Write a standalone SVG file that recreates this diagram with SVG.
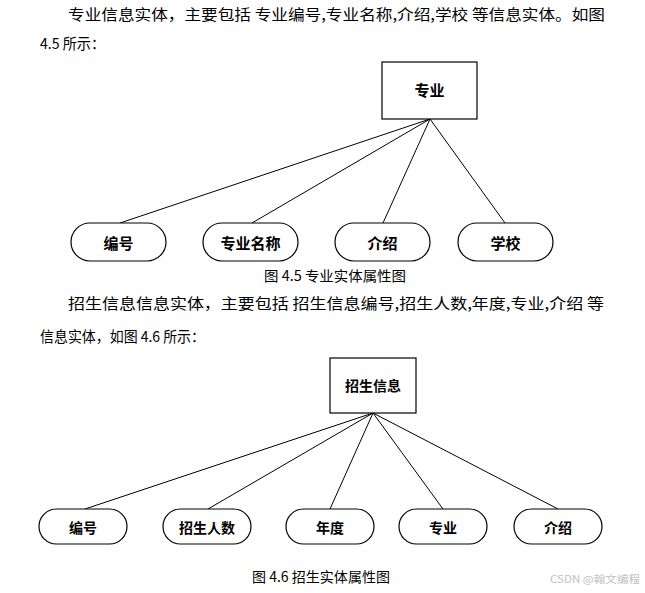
<svg xmlns="http://www.w3.org/2000/svg" width="645" height="593" viewBox="0 0 645 593">
<style>
.body{font-family:"Noto Sans CJK SC","Liberation Serif",serif;font-size:15px;fill:#000}
.cap{font-family:"Noto Sans CJK SC","Liberation Serif",serif;font-size:14px;fill:#000}
.ent{fill:#fff;stroke:#000;stroke-width:1.2}
.attr{fill:#fff;stroke:#000;stroke-width:1.2}
.lbl{font-family:"Noto Sans CJK SC",sans-serif;font-size:15px;font-weight:bold;fill:#000;text-anchor:middle;dominant-baseline:central}
.lbl2{font-family:"Noto Sans CJK SC",sans-serif;font-size:14px;font-weight:bold;fill:#000;text-anchor:middle;dominant-baseline:central}
.conn line{stroke:#000;stroke-width:1}
</style>
<rect width="645" height="593" fill="#fff"/>
<text class="body" x="68" y="20" textLength="537" lengthAdjust="spacingAndGlyphs">专业信息实体，主要包括 专业编号,专业名称,介绍,学校 等信息实体。如图</text>
<text class="body" x="40" y="49" textLength="65" lengthAdjust="spacingAndGlyphs">4.5 所示：</text>
<text class="cap" x="264" y="281" textLength="142" lengthAdjust="spacingAndGlyphs">图 4.5 专业实体属性图</text>
<text class="body" x="68" y="309" textLength="536" lengthAdjust="spacingAndGlyphs">招生信息信息实体，主要包括 招生信息编号,招生人数,年度,专业,介绍 等</text>
<text class="body" x="40" y="342" textLength="165" lengthAdjust="spacingAndGlyphs">信息实体，如图 4.6 所示：</text>
<text class="cap" x="252" y="582" textLength="138" lengthAdjust="spacingAndGlyphs">图 4.6 招生实体属性图</text>
<text x="550" y="583" font-family="Noto Sans CJK SC, sans-serif" font-size="10" fill="#c0c0c0" textLength="90" lengthAdjust="spacingAndGlyphs">CSDN @翰文编程</text>

<g id="connectors" class="conn">
<line x1="430" y1="119" x2="120" y2="223"/>
<line x1="430" y1="119" x2="252" y2="223"/>
<line x1="430" y1="119" x2="383" y2="223"/>
<line x1="430" y1="119" x2="505" y2="223"/>
<line x1="373" y1="413" x2="85" y2="509"/>
<line x1="373" y1="413" x2="208" y2="509"/>
<line x1="373" y1="413" x2="330" y2="509"/>
<line x1="373" y1="413" x2="443" y2="509"/>
<line x1="373" y1="413" x2="558" y2="509"/>
</g>

<g id="major"><rect class="ent" x="382" y="62" width="95" height="57"/><text class="lbl" x="429.5" y="89">专业</text></g>
<g id="major-id"><rect class="attr" x="71" y="223" width="95" height="38" rx="19"/><text class="lbl" x="118.5" y="242">编号</text></g>
<g id="major-name"><rect class="attr" x="203" y="223" width="95" height="38" rx="19"/><text class="lbl" x="250.5" y="242">专业名称</text></g>
<g id="major-intro"><rect class="attr" x="335" y="223" width="95" height="38" rx="19"/><text class="lbl" x="382.5" y="242">介绍</text></g>
<g id="major-school"><rect class="attr" x="458" y="223" width="95" height="38" rx="19"/><text class="lbl" x="505.5" y="242">学校</text></g>

<g id="enroll"><rect class="ent" x="330" y="358" width="86" height="55"/><text class="lbl2" x="373" y="385">招生信息</text></g>
<g id="enroll-id"><rect class="attr" x="39" y="509" width="88" height="35" rx="17.5"/><text class="lbl2" x="83" y="526.5">编号</text></g>
<g id="enroll-count"><rect class="attr" x="163" y="509" width="88" height="35" rx="17.5"/><text class="lbl2" x="207" y="526.5">招生人数</text></g>
<g id="enroll-year"><rect class="attr" x="286" y="509" width="88" height="35" rx="17.5"/><text class="lbl2" x="330" y="526.5">年度</text></g>
<g id="enroll-major"><rect class="attr" x="399" y="509" width="88" height="35" rx="17.5"/><text class="lbl2" x="443" y="526.5">专业</text></g>
<g id="enroll-intro"><rect class="attr" x="514" y="509" width="88" height="35" rx="17.5"/><text class="lbl2" x="558" y="526.5">介绍</text></g>
</svg>
